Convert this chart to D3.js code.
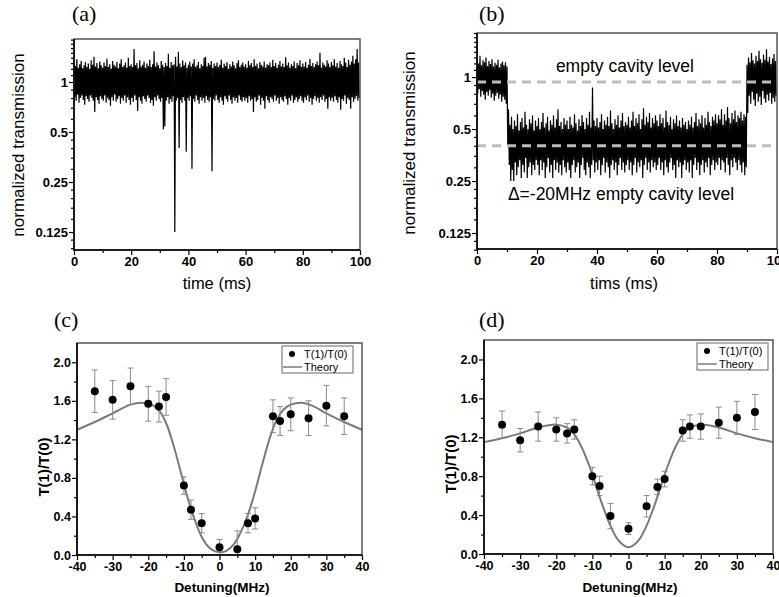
<!DOCTYPE html>
<html>
<head>
<meta charset="utf-8">
<script src="https://cdnjs.cloudflare.com/ajax/libs/d3/7.8.5/d3.min.js"></script>
<style>
body{margin:0;background:#fff;}
svg{display:block;font-family:Arial,"Liberation Sans",sans-serif;}
</style>
</head>
<body>
<svg id="fig" width="779" height="597"></svg>
<script>
// (a) transmission trace, upper / lower excursion in each 0.5 ms slot (one row = 10 ms)
const hiA = [
  1.31,1.25,1.37,1.22,1.28,1.34,1.21,1.26,1.32,1.23,1.29,1.20,1.35,1.27,1.42,1.24,1.30,1.21,1.33,1.26,
  1.22,1.31,1.25,1.38,1.23,1.28,1.20,1.34,1.27,1.24,1.32,1.21,1.29,1.37,1.23,1.26,1.31,1.22,1.40,1.25,
  1.28,1.23,1.58,1.26,1.30,1.21,1.35,1.24,1.27,1.33,1.22,1.29,1.25,1.36,1.23,1.28,1.53,1.24,1.31,1.26,
  1.21,1.34,1.27,1.23,1.30,1.25,1.48,1.22,1.32,1.26,1.28,1.42,1.24,1.52,1.29,1.23,1.35,1.26,1.31,1.22,
  1.27,1.33,1.24,1.29,1.37,1.23,1.26,1.32,1.21,1.28,1.25,1.40,1.42,1.24,1.30,1.27,1.34,1.22,1.29,1.25,
  1.31,1.23,1.27,1.36,1.22,1.29,1.25,1.32,1.20,1.28,1.24,1.33,1.26,1.21,1.30,1.35,1.23,1.27,1.31,1.24,
  1.28,1.22,1.34,1.26,1.30,1.23,1.37,1.25,1.29,1.21,1.32,1.27,1.24,1.33,1.22,1.28,1.26,1.31,1.23,1.36,
  1.25,1.30,1.22,1.27,1.34,1.24,1.29,1.23,1.41,1.26,1.31,1.22,1.28,1.25,1.33,1.21,1.30,1.26,1.35,1.23,
  1.29,1.24,1.32,1.22,1.27,1.38,1.25,1.30,1.23,1.28,1.33,1.26,1.50,1.22,1.31,1.27,1.24,1.35,1.29,1.23,
  1.32,1.26,1.37,1.24,1.30,1.22,1.34,1.28,1.25,1.40,1.31,1.23,1.36,1.27,1.33,1.44,1.29,1.37,1.58,1.31];
const loA = [
  0.81,0.77,0.84,0.75,0.80,0.83,0.78,0.73,0.82,0.79,0.76,0.83,0.80,0.77,0.66,0.81,0.78,0.74,0.82,0.79,
  0.77,0.83,0.75,0.80,0.78,0.72,0.81,0.77,0.84,0.76,0.79,0.82,0.74,0.80,0.77,0.83,0.75,0.81,0.78,0.73,
  0.80,0.76,0.83,0.78,0.67,0.81,0.77,0.74,0.82,0.79,0.76,0.83,0.80,0.75,0.78,0.72,0.81,0.77,0.83,0.79,
  0.76,0.80,0.52,0.54,0.77,0.81,0.74,0.79,0.76,0.82,0.125,0.77,0.80,0.40,0.78,0.75,0.81,0.77,0.38,0.80,
  0.77,0.82,0.30,0.79,0.76,0.83,0.78,0.74,0.81,0.77,0.80,0.75,0.82,0.78,0.76,0.81,0.29,0.79,0.77,0.83,
  0.78,0.75,0.81,0.77,0.73,0.82,0.79,0.76,0.83,0.78,0.74,0.81,0.77,0.80,0.75,0.83,0.78,0.76,0.81,0.77,
  0.80,0.75,0.82,0.77,0.79,0.66,0.81,0.76,0.78,0.83,0.73,0.80,0.77,0.69,0.82,0.78,0.75,0.81,0.79,0.76,
  0.83,0.77,0.80,0.74,0.81,0.78,0.76,0.82,0.79,0.73,0.80,0.77,0.83,0.75,0.78,0.81,0.76,0.79,0.82,0.77,
  0.75,0.81,0.78,0.83,0.76,0.80,0.73,0.79,0.82,0.77,0.80,0.75,0.81,0.78,0.83,0.76,0.79,0.69,0.81,0.77,
  0.80,0.76,0.82,0.78,0.75,0.81,0.68,0.79,0.77,0.83,0.74,0.80,0.78,0.69,0.81,0.76,0.79,0.82,0.77,0.80];

// (b) trace with one atom pulling the level down between 10 and 90 ms
const hiB = [
  1.28,1.20,1.33,1.17,1.25,1.22,1.30,1.16,1.24,1.19,1.27,1.15,1.21,1.18,1.26,1.14,1.20,1.23,1.17,1.22,
  1.15,0.65,0.53,0.59,0.50,0.56,0.52,0.61,0.49,0.55,0.58,0.51,0.63,0.53,0.50,0.57,0.54,0.60,0.49,0.56,
  0.52,0.58,0.50,0.55,0.62,0.51,0.54,0.59,0.49,0.56,0.53,0.60,0.51,0.57,0.65,0.52,0.55,0.50,0.58,0.53,
  0.56,0.50,0.59,0.53,0.51,0.61,0.54,0.49,0.57,0.52,0.60,0.55,0.50,0.58,0.53,0.63,0.51,0.87,0.56,0.52,
  0.58,0.51,0.55,0.61,0.50,0.56,0.53,0.59,0.52,0.64,0.54,0.50,0.57,0.53,0.60,0.51,0.56,0.62,0.52,0.55,
  0.53,0.59,0.51,0.56,0.63,0.52,0.58,0.54,0.61,0.50,0.57,0.66,0.53,0.59,0.55,0.62,0.51,0.58,0.54,0.60,
  0.56,0.52,0.61,0.54,0.58,0.51,0.64,0.55,0.53,0.59,0.50,0.57,0.54,0.60,0.52,0.56,0.51,0.58,0.53,0.55,
  0.50,0.56,0.53,0.59,0.51,0.55,0.62,0.52,0.57,0.54,0.60,0.51,0.58,0.53,0.63,0.55,0.52,0.59,0.56,0.61,
  0.54,0.60,0.57,0.65,0.53,0.61,0.56,0.67,0.58,0.54,0.62,0.57,0.64,0.55,0.60,0.58,0.63,0.56,0.61,0.59,
  1.18,1.30,1.22,1.38,1.25,1.20,1.33,1.24,1.42,1.27,1.21,1.35,1.26,1.45,1.23,1.31,1.19,1.28,1.36,1.24];
const loB = [
  0.80,0.85,0.77,0.83,0.79,0.74,0.82,0.78,0.84,0.76,0.80,0.73,0.78,0.81,0.75,0.79,0.72,0.77,0.74,0.70,
  0.40,0.31,0.25,0.29,0.25,0.32,0.27,0.30,0.33,0.26,0.31,0.28,0.34,0.26,0.30,0.32,0.27,0.31,0.29,0.33,
  0.31,0.27,0.33,0.29,0.32,0.26,0.30,0.34,0.28,0.31,0.26,0.33,0.29,0.32,0.28,0.31,0.27,0.33,0.30,0.28,
  0.32,0.29,0.26,0.31,0.33,0.28,0.30,0.32,0.26,0.31,0.34,0.29,0.27,0.32,0.30,0.26,0.31,0.33,0.28,0.32,
  0.29,0.33,0.27,0.31,0.34,0.28,0.32,0.30,0.26,0.31,0.33,0.29,0.32,0.27,0.31,0.34,0.29,0.32,0.28,0.31,
  0.33,0.29,0.32,0.27,0.31,0.34,0.28,0.32,0.30,0.33,0.26,0.31,0.34,0.29,0.32,0.28,0.33,0.30,0.32,0.29,
  0.31,0.34,0.29,0.32,0.27,0.33,0.30,0.28,0.32,0.34,0.29,0.31,0.26,0.33,0.30,0.32,0.26,0.31,0.33,0.29,
  0.32,0.28,0.33,0.26,0.31,0.34,0.29,0.32,0.27,0.31,0.33,0.28,0.32,0.30,0.34,0.27,0.31,0.33,0.29,0.32,
  0.31,0.34,0.29,0.33,0.32,0.28,0.34,0.31,0.27,0.33,0.30,0.34,0.32,0.29,0.33,0.31,0.28,0.32,0.27,0.30,
  0.62,0.78,0.70,0.82,0.74,0.68,0.80,0.72,0.77,0.69,0.83,0.75,0.71,0.79,0.73,0.81,0.70,0.76,0.72,0.78];
const levelsB = [0.935, 0.40];
const slotMs = 0.5;

const logTicks = [1, 0.5, 0.25, 0.125];
const logTickLabels = ["1", "0.5", "0.25", "0.125"];
const logMinor = [1.8,1.7,1.6,1.5,1.4,1.3,1.2,1.1,0.9,0.8,0.7,0.6,0.45,0.4,0.35,0.3,0.225,0.2,0.175,0.15,0.1125,0.1];
const timeTicks = [0,20,40,60,80,100];
const timeMinor = [10,30,50,70,90];

// (c), (d) ratio T(1)/T(0) vs detuning
const detuning = [-35,-30,-25,-20,-17,-15,-10,-8,-5,0,5,8,10,15,17,20,25,30,35];
const ratioC = [1.70,1.61,1.75,1.57,1.54,1.64,0.72,0.47,0.33,0.08,0.06,0.33,0.38,1.44,1.39,1.46,1.42,1.55,1.44];
const errC   = [0.22,0.20,0.19,0.18,0.16,0.19,0.09,0.10,0.10,0.08,0.19,0.10,0.11,0.17,0.15,0.17,0.18,0.21,0.19];
const ratioD = [1.33,1.17,1.31,1.28,1.24,1.28,0.80,0.70,0.39,0.26,0.49,0.69,0.77,1.27,1.31,1.31,1.35,1.40,1.46];
const errD   = [0.14,0.12,0.15,0.12,0.10,0.10,0.09,0.10,0.13,0.06,0.11,0.08,0.08,0.11,0.12,0.13,0.16,0.17,0.18];

const theoryCx = [-40,-35,-30,-25,-22,-19,-17,-15,-13,-11,-9,-7,-5,-3,-1,0,1,2,4,6,8,10,12,14,16,18,20,23,26,30,35,40];
const theoryCy = [1.30,1.38,1.47,1.56,1.58,1.56,1.50,1.37,1.15,0.88,0.60,0.37,0.19,0.08,0.035,0.03,0.032,0.045,0.11,0.24,0.42,0.66,0.94,1.20,1.40,1.51,1.56,1.58,1.55,1.47,1.38,1.30];
const theoryDx = [-40,-35,-30,-25,-20,-17,-15,-13,-11,-9,-7,-5,-3,-1,0,1,3,5,7,9,11,13,15,17,20,25,30,35,40];
const theoryDy = [1.15,1.19,1.24,1.30,1.33,1.30,1.23,1.10,0.92,0.70,0.48,0.29,0.15,0.08,0.07,0.08,0.15,0.29,0.48,0.70,0.92,1.10,1.23,1.30,1.33,1.30,1.24,1.19,1.15];

const detTicks = [-40,-30,-20,-10,0,10,20,30,40];
const detMinor = [-35,-25,-15,-5,5,15,25,35];
const ratioTicks = [0,0.4,0.8,1.2,1.6,2.0];
const ratioMinor = [0.2,0.6,1.0,1.4,1.8];

const svg = d3.select("#fig");

function frame(g, x, y, o) {
    const [x0, x1] = x.range();
    const [y0, y1] = y.range();
    // minor ticks
    g.append("g").attr("transform", `translate(0,${y0})`)
        .call(d3.axisBottom(x).tickValues(o.xMinor).tickSize(3).tickFormat(""))
        .call(a => a.select(".domain").remove());
    g.append("g").attr("transform", `translate(${x0},0)`)
        .call(d3.axisLeft(y).tickValues(o.yMinor).tickSize(3).tickFormat(""))
        .call(a => a.select(".domain").remove());
    // major ticks + labels
    g.append("g").attr("transform", `translate(0,${y0})`)
        .call(d3.axisBottom(x).tickValues(o.xTicks).tickSize(5).tickPadding(2).tickFormat(d => d))
        .call(a => a.select(".domain").remove())
        .call(a => a.selectAll("text").attr("font-size", o.fs).attr("font-weight", "bold").attr("fill", "#000").attr("font-family", "Arial, 'Liberation Sans', sans-serif"));
    g.append("g").attr("transform", `translate(${x0},0)`)
        .call(d3.axisLeft(y).tickValues(o.yTicks).tickSize(5).tickPadding(1).tickFormat(o.yFmt))
        .call(a => a.select(".domain").remove())
        .call(a => a.selectAll("text").attr("font-size", o.fs).attr("font-weight", "bold").attr("fill", "#000").attr("font-family", "Arial, 'Liberation Sans', sans-serif"));
    g.selectAll(".tick line").attr("stroke", "#000").attr("stroke-width", 1.2);

    g.append("rect")
        .attr("x", x0).attr("y", y1)
        .attr("width", x1 - x0).attr("height", y0 - y1)
        .attr("fill", "none").attr("stroke", "#555").attr("stroke-width", 1.5);
    g.append("path")
        .attr("d", `M${x0},${y1}V${y0}H${x1}`)
        .attr("fill", "none").attr("stroke", "#000").attr("stroke-width", 1.6);
}

function trace(g, x, y, hi, lo, id) {
    const pts = [];
    hi.forEach((h, i) => {
        pts.push([i * slotMs, h]);
        pts.push([i * slotMs + slotMs / 2, lo[i]]);
    });
    g.append("clipPath").attr("id", id)
        .append("rect")
        .attr("x", x.range()[0]).attr("y", y.range()[1])
        .attr("width", x.range()[1] - x.range()[0]).attr("height", y.range()[0] - y.range()[1]);
    g.append("path")
        .datum(pts)
        .attr("clip-path", `url(#${id})`)
        .attr("fill", "none").attr("stroke", "#000").attr("stroke-width", 1.2)
        .attr("d", d3.line().x(d => x(d[0])).y(d => y(d[1])));
}

function panelLabel(txt, px, py) {
    svg.append("text").attr("x", px).attr("y", py)
        .attr("font-family", "'Liberation Serif','Times New Roman',serif")
        .attr("font-size", 22).text(txt);
}

// ---------- (a)
const xA = d3.scaleLinear().domain([0, 100]).range([74, 360]);
const yA = d3.scaleLog().base(2).domain([0.0974, 1.815]).range([250, 39]);
const gA = svg.append("g");
trace(gA, xA, yA, hiA, loA, "clipA");
frame(gA, xA, yA, {xTicks: timeTicks, xMinor: timeMinor, yTicks: logTicks, yMinor: logMinor,
    yFmt: (d, i) => logTickLabels[i], fs: 13});
panelLabel("(a)", 72, 21);
svg.append("text").attr("x", 217).attr("y", 289).attr("text-anchor", "middle")
    .attr("font-size", 16.5).text("time (ms)");
svg.append("text").attr("transform", "translate(24,145) rotate(-90)").attr("text-anchor", "middle")
    .attr("font-size", 17).text("normalized transmission");

// ---------- (b)
const xB = d3.scaleLinear().domain([0, 100]).range([477, 777]);
const yB = d3.scaleLog().base(2).domain([0.101, 1.80]).range([249, 33]);
const gB = svg.append("g");
trace(gB, xB, yB, hiB, loB, "clipB");
gB.selectAll(".level").data(levelsB).join("line")
    .attr("x1", xB(0)).attr("x2", xB(100))
    .attr("y1", d => yB(d)).attr("y2", d => yB(d))
    .attr("stroke", "#bdbdbd").attr("stroke-width", 3).attr("stroke-dasharray", "9,6");
frame(gB, xB, yB, {xTicks: timeTicks, xMinor: timeMinor, yTicks: logTicks, yMinor: logMinor,
    yFmt: (d, i) => logTickLabels[i], fs: 13});
gB.append("text").attr("x", xB(26.3)).attr("y", yB(1.07)).attr("font-size", 17.5).text("empty cavity level");
gB.append("text").attr("x", xB(10.3)).attr("y", yB(0.194)).attr("font-size", 17.5).text("Δ=-20MHz empty cavity level");
panelLabel("(b)", 479, 21);
svg.append("text").attr("x", 624).attr("y", 289).attr("text-anchor", "middle")
    .attr("font-size", 16.5).text("tims (ms)");
svg.append("text").attr("transform", "translate(415,143) rotate(-90)").attr("text-anchor", "middle")
    .attr("font-size", 17).text("normalized transmission");

// ---------- (c) / (d)
function ratioPanel(left, right, top, bottom, vals, errs, thx, thy, legRight) {
    const x = d3.scaleLinear().domain([-40, 40]).range([left, right]);
    const y = d3.scaleLinear().domain([0, 2.2]).range([bottom, top]);
    const g = svg.append("g");
    const th = thx.map((d, i) => [d, thy[i]]);
    g.append("path").datum(th)
        .attr("fill", "none").attr("stroke", "#7a7a7a").attr("stroke-width", 2)
        .attr("d", d3.line().curve(d3.curveCatmullRom).x(d => x(d[0])).y(d => y(d[1])));
    const pts = detuning.map((d, i) => ({x: d, v: vals[i], e: errs[i]}));
    const eb = g.selectAll(".eb").data(pts).join("g").attr("stroke", "#8a8a8a").attr("stroke-width", 1);
    eb.append("line").attr("x1", d => x(d.x)).attr("x2", d => x(d.x))
        .attr("y1", d => y(Math.max(0, d.v - d.e))).attr("y2", d => y(d.v + d.e));
    eb.append("line").attr("x1", d => x(d.x) - 3).attr("x2", d => x(d.x) + 3)
        .attr("y1", d => y(d.v + d.e)).attr("y2", d => y(d.v + d.e));
    eb.append("line").attr("x1", d => x(d.x) - 3).attr("x2", d => x(d.x) + 3)
        .attr("y1", d => y(Math.max(0, d.v - d.e))).attr("y2", d => y(Math.max(0, d.v - d.e)));
    g.selectAll(".pt").data(pts).join("circle")
        .attr("cx", d => x(d.x)).attr("cy", d => y(d.v)).attr("r", 4).attr("fill", "#000");
    frame(g, x, y, {xTicks: detTicks, xMinor: detMinor, yTicks: ratioTicks, yMinor: ratioMinor,
        yFmt: d3.format(".1f"), fs: 12.5});

    // legend
    const lw = 71, lh = 27, lx = legRight - lw, ly = top + 3;
    const lg = g.append("g");
    lg.append("rect").attr("x", lx).attr("y", ly).attr("width", lw).attr("height", lh)
        .attr("fill", "#fff").attr("stroke", "#666").attr("stroke-width", 1);
    lg.append("circle").attr("cx", lx + 10).attr("cy", ly + 8).attr("r", 3).attr("fill", "#000");
    lg.append("text").attr("x", lx + 22).attr("y", ly + 12).attr("font-size", 11).text("T(1)/T(0)");
    lg.append("line").attr("x1", lx + 1).attr("x2", lx + 20).attr("y1", ly + 21).attr("y2", ly + 21)
        .attr("stroke", "#7a7a7a").attr("stroke-width", 1.5);
    lg.append("text").attr("x", lx + 22).attr("y", ly + 25).attr("font-size", 11).text("Theory");
    return x;
}

ratioPanel(77, 362, 343, 555, ratioC, errC, theoryCx, theoryCy, 353);
panelLabel("(c)", 54, 327);
svg.append("text").attr("x", 222).attr("y", 592).attr("text-anchor", "middle")
    .attr("font-size", 13.5).attr("font-weight", "bold").text("Detuning(MHz)");
svg.append("text").attr("transform", "translate(49,467) rotate(-90)").attr("text-anchor", "middle")
    .attr("font-size", 15).attr("font-weight", "bold").text("T(1)/T(0)");

ratioPanel(484, 773, 340, 554, ratioD, errD, theoryDx, theoryDy, 768);
panelLabel("(d)", 479, 327);
svg.append("text").attr("x", 630).attr("y", 592).attr("text-anchor", "middle")
    .attr("font-size", 13.5).attr("font-weight", "bold").text("Detuning(MHz)");
svg.append("text").attr("transform", "translate(456,464) rotate(-90)").attr("text-anchor", "middle")
    .attr("font-size", 15).attr("font-weight", "bold").text("T(1)/T(0)");
</script>
</body>
</html>
